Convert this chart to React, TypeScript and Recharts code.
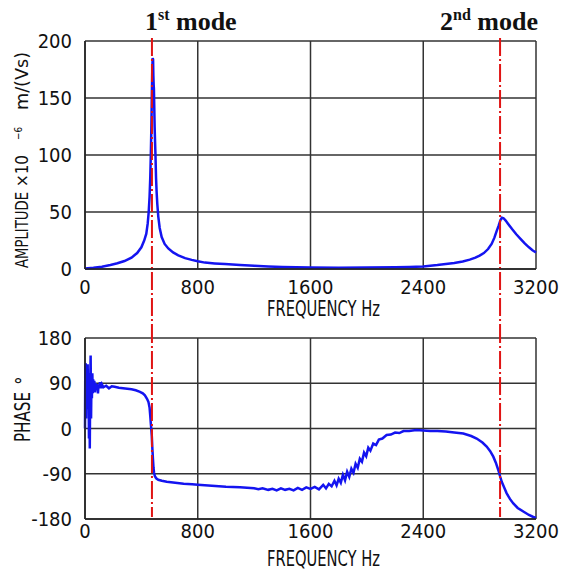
import { CartesianGrid, Line, LineChart, ReferenceLine, XAxis, YAxis } from "recharts";

// ── Data ──────────────────────────────────────────────────────────────────────

const freqTicks = [0, 800, 1600, 2400, 3200];
const ampTicks = [0, 50, 100, 150, 200];
const phaseTicks = [-180, -90, 0, 90, 180];

const modeFreqs = [475, 2945];
const modeNums = ["1", "2"];
const modeSups = ["st", "nd"];

const ampFreq = [
  0, 60, 120, 180, 230, 280, 330, 370, 400, 420, 435, 445, 452, 458, 463, 467, 471, 474, 477, 480,
  483, 485, 487, 489, 491, 494, 497, 500, 504, 508, 513, 520, 530, 544, 565, 591, 625, 662, 710, 757,
  800, 851, 920, 993, 1100, 1200, 1300, 1400, 1500, 1600, 1800, 2000, 2200, 2300, 2400, 2450, 2500,
  2560, 2620, 2680, 2730, 2770, 2800, 2830, 2860, 2885, 2905, 2920, 2935, 2948, 2958, 2970, 2985,
  3000, 3030, 3060, 3090, 3120, 3150, 3175, 3200,
];
const ampValues = [
  0.5, 1, 2, 3.5, 5, 7, 10, 14, 19, 25, 31, 40, 50, 63, 80, 100, 125, 150, 172, 185,
  184, 170, 162, 158, 145, 125, 112, 100, 80, 68, 57, 46, 36, 28, 22, 18, 14.5, 12, 9.5, 8,
  6.8, 5.6, 4.9, 4.3, 3.5, 2.8, 2.2, 1.8, 1.5, 1.3, 1.2, 1.3, 1.5, 1.8, 2.2, 2.9, 3.5,
  4.4, 5.3, 6.6, 8.2, 10, 11.8, 14, 17.5, 22, 27.5, 33, 38, 43, 45, 44.5, 42.5,
  40, 35, 30.5, 26.5, 22.5, 19, 16.5, 14.5,
];

const phaseFreq = [
  0, 2, 5, 8, 10, 13, 16, 19, 22, 25, 28, 31, 34, 37, 40, 43, 46, 49, 52, 55, 58, 62, 66, 70, 75,
  80, 85, 92, 96, 100, 106, 112, 120, 130, 150, 170, 190, 210, 240, 270, 300, 330, 360, 390, 410,
  425, 440, 450, 458, 463, 467, 470, 474, 478, 482, 486, 490, 496, 505, 520, 545, 580, 640, 700,
  760, 800, 900, 1000, 1100, 1150, 1200, 1230, 1260, 1300, 1330, 1360, 1390, 1420, 1450, 1480,
  1510, 1540, 1570, 1600, 1630, 1660, 1690, 1710, 1730, 1750, 1770, 1785, 1800, 1815, 1830, 1845,
  1860, 1875, 1890, 1905, 1920, 1935, 1950, 1965, 1980, 1995, 2010, 2025, 2045, 2065, 2085, 2110,
  2140, 2170, 2200, 2230, 2260, 2300, 2350, 2400, 2450, 2500, 2560, 2620, 2684, 2740, 2779, 2820,
  2850, 2875, 2897, 2915, 2933, 2945, 2957, 2975, 2992, 3015, 3039, 3070, 3110, 3150, 3181, 3200,
];
const phaseValues = [
  0, 120, 130, 20, 125, 110, 60, 128, 40, 100, -20, 110, -40, 95, 145, 20, 100, 60, 110, 70, 98,
  78, 95, 72, 90, 78, 88, 70, 86, 80, 92, 80, 88, 82, 85, 80, 84, 83, 81, 80, 79, 78, 76, 73, 70,
  66, 59, 53, 42, 25, 10, 0, -15, -40, -60, -78, -88, -95, -99, -102, -104, -106, -108, -110,
  -111, -112, -114, -116, -117, -118, -119, -121, -119, -122, -120, -123, -119, -122, -120, -123,
  -118, -122, -117, -120, -116, -121, -112, -119, -110, -115, -104, -113, -100, -108, -92, -103,
  -86, -96, -80, -88, -70, -78, -60, -66, -48, -55, -38, -44, -30, -33, -22, -20,
  -13, -12, -8, -9, -5, -5, -3, -4, -5, -5, -6, -8, -10, -15, -20, -28,
  -36, -45, -56, -68, -83, -95, -106, -118, -129, -140, -149, -158, -165, -172, -176, -178,
];

const ampData = ampFreq.map((f, i) => ({ f, v: ampValues[i] }));
const phaseData = phaseFreq.map((f, i) => ({ f, v: phaseValues[i] }));

// ── Styles ────────────────────────────────────────────────────────────────────

const AXIS_FONT = '"Liberation Sans Narrow", "DejaVu Sans Condensed", "Arial Narrow", sans-serif';
const TITLE_FONT = '"Liberation Serif", "Times New Roman", serif';
const tickStyle = { fontFamily: AXIS_FONT, fontSize: 20, fill: "#111" };
const GRID = "#333";
const BLUE = "#1414f0";
const RED = "#e01414";

const modeLabelDx = [-7, -60];

// vertical dash-dot mode marker, stretched past the plot edges
function modeShape(ext: [number, number], idx: number, withLabel: boolean) {
  return (p: any) => {
    const top = Math.min(p.y1, p.y2) + ext[0];
    const bot = Math.max(p.y1, p.y2) + ext[1];
    return (
      <g>
        <line x1={p.x1} x2={p.x1} y1={top} y2={bot} stroke={RED} strokeWidth={2} strokeDasharray="18 3 2 3" />
        {withLabel && (
          <text x={p.x1 + modeLabelDx[idx]} y={30} fontFamily={TITLE_FONT} fontWeight="bold" fontSize={26} fill="#111">
            {modeNums[idx]}
            <tspan fontSize={16} dy={-10}>{modeSups[idx]}</tspan>
            <tspan dy={10}> mode</tspan>
          </text>
        )}
      </g>
    );
  };
}

const freqLabel = (bottom: number) => (p: any) => {
  const vb = p.viewBox;
  return (
    <text x={vb.x + vb.width / 2 + 13} y={vb.y + vb.height - bottom} textAnchor="middle" fontFamily={AXIS_FONT} fontSize={21} fill="#111" textLength={113} lengthAdjust="spacingAndGlyphs">
      FREQUENCY Hz
    </text>
  );
};

const ampLabel = () => {
  const x = 28;
  return (
    <g fontFamily={AXIS_FONT} fill="#111">
      <text x={x} y={268} transform={`rotate(-90, ${x}, 268)`} fontSize={18} textLength={76} lengthAdjust="spacingAndGlyphs">AMPLITUDE</text>
      <text x={x} y={187} transform={`rotate(-90, ${x}, 187)`} fontSize={18} textLength={32} lengthAdjust="spacingAndGlyphs">×10</text>
      <text x={22} y={140} transform={`rotate(-90, 22, 140)`} fontSize={11} textLength={13} lengthAdjust="spacingAndGlyphs">−6</text>
      <text x={x} y={110} transform={`rotate(-90, ${x}, 110)`} fontSize={18} textLength={58} lengthAdjust="spacingAndGlyphs">m/(Vs)</text>
    </g>
  );
};

const phaseLabel = () => (
  <g fontFamily={AXIS_FONT} fill="#111">
    <text x={30} y={117} transform="rotate(-90, 30, 117)" fontSize={21} textLength={50} lengthAdjust="spacingAndGlyphs">PHASE</text>
    <text x={30} y={60} transform="rotate(-90, 30, 60)" fontSize={19}>°</text>
  </g>
);

export default function App() {
  return (
    <div style={{ position: "absolute", left: 0, top: 0, width: 561, height: 572, background: "#fff" }}>
      <div style={{ position: "absolute", left: 0, top: 0 }}>
        <LineChart width={561} height={325} data={ampData} margin={{ top: 41, right: 25, bottom: 6, left: 0 }}>
          <CartesianGrid stroke={GRID} strokeWidth={1.5} horizontalValues={ampTicks} verticalValues={freqTicks} />
          <XAxis type="number" dataKey="f" domain={[0, 3200]} ticks={freqTicks} interval={0} height={50}
            tickLine={false} tickSize={0} tickMargin={11} axisLine={{ stroke: "#222", strokeWidth: 1.5 }} tick={tickStyle}
            label={{ content: freqLabel(3) }} />
          <YAxis type="number" domain={[0, 200]} ticks={ampTicks} interval={0} width={85}
            tickLine={false} tickSize={0} tickMargin={13} axisLine={{ stroke: "#222", strokeWidth: 1.5 }} tick={tickStyle}
            label={{ content: ampLabel }} />
          <Line type="linear" dataKey="v" stroke={BLUE} strokeWidth={2.5} dot={false} isAnimationActive={false} />
          {modeFreqs.map((m, i) => (
            <ReferenceLine key={m} x={m} ifOverflow="visible" shape={modeShape([-3, 56], i, true)} />
          ))}
        </LineChart>
      </div>
      <div style={{ position: "absolute", left: 0, top: 325 }}>
        <LineChart width={561} height={247} data={phaseData} margin={{ top: 13, right: 25, bottom: 3, left: 0 }}>
          <CartesianGrid stroke={GRID} strokeWidth={1.5} horizontalValues={phaseTicks} verticalValues={freqTicks} />
          <XAxis type="number" dataKey="f" domain={[0, 3200]} ticks={freqTicks} interval={0} height={50}
            tickLine={false} tickSize={0} tickMargin={5} axisLine={{ stroke: "#222", strokeWidth: 1.5 }} tick={tickStyle}
            label={{ content: freqLabel(3) }} />
          <YAxis type="number" domain={[-180, 180]} ticks={phaseTicks} interval={0} width={85}
            tickLine={false} tickSize={0} tickMargin={13} axisLine={{ stroke: "#222", strokeWidth: 1.5 }} tick={tickStyle}
            label={{ content: phaseLabel }} />
          <Line type="linear" dataKey="v" stroke={BLUE} strokeWidth={2.5} dot={false} isAnimationActive={false} />
          {modeFreqs.map((m, i) => (
            <ReferenceLine key={m} x={m} ifOverflow="visible" shape={modeShape([-13, -2], i, false)} />
          ))}
        </LineChart>
      </div>
    </div>
  );
}
